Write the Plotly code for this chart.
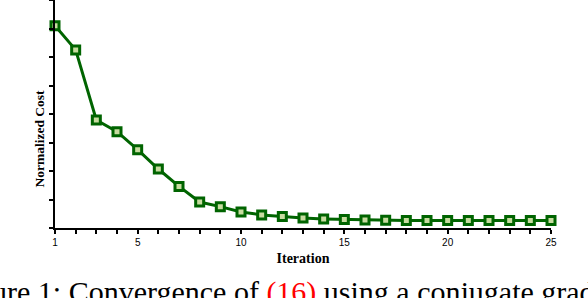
import plotly.graph_objects as go

iterations = list(range(1, 26))
normalized_cost = [7.10, 6.25, 3.79, 3.38, 2.75, 2.07, 1.46, 0.91, 0.75, 0.56,
                   0.46, 0.40, 0.35, 0.32, 0.30, 0.28, 0.27, 0.26, 0.26, 0.26,
                   0.26, 0.26, 0.26, 0.26, 0.26]
x_tick_vals = list(range(1, 26))
x_tick_text = [str(v) if v in (1, 5, 10, 15, 20, 25) else "" for v in x_tick_vals]
y_tick_vals = list(range(0, 9))

fig = go.Figure()
fig.add_trace(go.Scatter(
    x=iterations, y=normalized_cost, mode="lines+markers",
    line=dict(color="#006400", width=3),
    marker=dict(symbol="square", size=8, color="#c8dca0",
                line=dict(color="#006400", width=3)),
    cliponaxis=False, showlegend=False,
))

fig.update_layout(
    width=588, height=298,
    margin=dict(l=55, r=37, t=0, b=70),
    paper_bgcolor="white", plot_bgcolor="white",
    font=dict(family="Liberation Serif", color="black"),
)
fig.update_xaxes(
    range=[1, 25], tickvals=x_tick_vals, ticktext=x_tick_text,
    ticks="outside", ticklen=4, tickwidth=1.5, tickcolor="black",
    showline=True, linecolor="black", linewidth=2, showgrid=False, zeroline=False,
    tickfont=dict(family="Liberation Sans", size=10),
    title=dict(text="<b>Iteration</b>", font=dict(family="Liberation Serif", size=14), standoff=6),
)
fig.update_yaxes(
    range=[0, 8], tickvals=y_tick_vals, showticklabels=False,
    ticks="outside", ticklen=4, tickwidth=1.5, tickcolor="black",
    showline=True, linecolor="black", linewidth=2, showgrid=False, zeroline=False,
)
fig.add_annotation(
    text="<b>Normalized Cost</b>", textangle=-90, showarrow=False,
    xref="paper", yref="paper", x=(39 - 55) / 496, y=(228 - 138.5) / 228,
    xanchor="center", yanchor="middle",
    font=dict(family="Liberation Serif", size=13.5),
)
fig.add_annotation(
    text='Figure 1: Convergence of <span style="color:red">(16)</span> using a conjugate gradient method',
    showarrow=False, xref="paper", yref="paper",
    x=(-50 - 55) / 496, y=(228 - 273) / 228, xanchor="left", yanchor="top",
    font=dict(family="Liberation Serif", size=30),
)

fig.write_html("out.html", config={"displayModeBar": False},
               post_script="document.body.style.margin='0';document.body.style.overflow='hidden';")
